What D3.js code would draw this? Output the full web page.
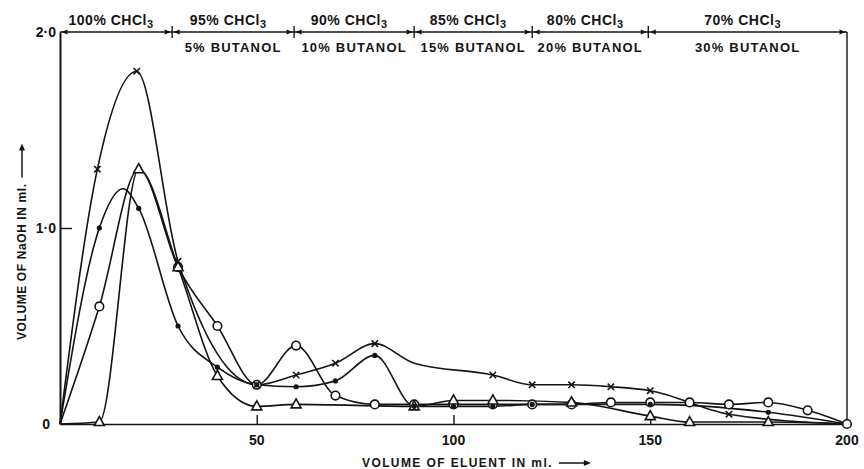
<!DOCTYPE html>
<html>
<head>
<meta charset="utf-8">
<script src="https://cdn.jsdelivr.net/npm/d3@7/dist/d3.min.js"></script>
<style>
body{margin:0;background:#fff;}
div.chart{width:864px;height:469px;}
text{font-family:"Liberation Sans",Arial,sans-serif;font-weight:bold;fill:#141414;}
</style>
</head>
<body>
<div class="chart"></div>
<script>
//values: [ml of eluent, ml of NaOH]
//plotted observations
var crossPts = [[9.5,1.30],[19.5,1.80],[30,0.83],[50,0.20],[60,0.25],[70,0.31],[80,0.41],[110,0.25],[120,0.20],[130,0.20],[140,0.19],[150,0.17],[170,0.05]];
var dotPts   = [[10,1.00],[20,1.10],[30,0.50],[40,0.29],[50,0.20],[60,0.19],[70,0.22],[80,0.35],[90,0.09],[100,0.09],[110,0.09],[120,0.10],[150,0.10],[180,0.06]];
var circPts  = [[10,0.60],[30,0.80],[40,0.50],[50,0.20],[60,0.40],[70,0.145],[80,0.10],[90,0.10],[100,0.10],[110,0.10],[120,0.10],[130,0.10],[140,0.11],[150,0.11],[160,0.11],[170,0.10],[180,0.11],[190,0.07],[200,0]];
var triPts   = [[10,0.01],[20,1.30],[30,0.80],[40,0.245],[50,0.09],[60,0.10],[90,0.09],[100,0.12],[110,0.12],[130,0.11],[150,0.04],[160,0.01],[180,0.01]];

//extra points the hand drawn curves pass through (no symbol)
var crossCurve = [[0,0],[90,0.31],[200,0]];
var dotCurve   = [[0,0],[16,1.20],[200,0]];
var circCurve  = [[0,0],[20,1.30]];
var triCurve   = [[0,0],[200,0]];

//solvent bands along the top
var bandEdges = [0,28.5,59.5,90,120,149.5,200];
var chcl3Pct  = ["100%","95%","90%","85%","80%","70%"];
var butPct    = ["","5%","10%","15%","20%","30%"];

//tick labels
var xTickVals = [50,100,150,200];
var xTickLabels = ["50","100","150","200"];
var yTickVals = [0,1,2];
var yTickLabels = ["0","1·0","2·0"];

var ink = "#141414";

var svg = d3.select("div.chart")
            .append("svg")
            .attr("width", 864)
            .attr("height", 469);

var x = d3.scaleLinear().domain([0,200]).range([60,847]);
var y = d3.scaleLinear().domain([0,2]).range([424,32]);

//bottom axis, ticks point up into the plot
svg.append("g")
   .attr("transform", "translate(0," + y(0) + ")")
   .call(d3.axisBottom(x).tickValues([50,100,150]).tickSize(-9).tickSizeOuter(0).tickFormat(""))
   .call(function(g){
       g.select(".domain").attr("stroke", ink).attr("stroke-width", 1.6);
       g.selectAll(".tick line").attr("stroke", ink).attr("stroke-width", 1.4);
   });

//left axis
svg.append("g")
   .attr("transform", "translate(" + x(0) + ",0)")
   .call(d3.axisLeft(y).tickValues([1]).tickSize(-12).tickSizeOuter(0).tickFormat(""))
   .call(function(g){
       g.select(".domain").attr("stroke", ink).attr("stroke-width", 2);
       g.selectAll(".tick line").attr("stroke", ink).attr("stroke-width", 1.4);
   });

//right edge
svg.append("line")
   .attr("x1", x(200)).attr("x2", x(200))
   .attr("y1", y(2)).attr("y2", y(0))
   .attr("stroke", ink).attr("stroke-width", 1.4);

//top band line with dividers and arrow heads
svg.append("line")
   .attr("x1", x(0)).attr("x2", x(200))
   .attr("y1", y(2)).attr("y2", y(2))
   .attr("stroke", ink).attr("stroke-width", 1.6);

svg.selectAll(".divider")
   .data(bandEdges.slice(1,-1))
   .enter()
   .append("line")
   .attr("x1", function(d){ return x(d); })
   .attr("x2", function(d){ return x(d); })
   .attr("y1", y(2)-6).attr("y2", y(2)+6)
   .attr("stroke", ink).attr("stroke-width", 1.4);

var heads = [];
for(var i=0;i<bandEdges.length-1;i++){
    heads.push({at: bandEdges[i], dir: -1});
    heads.push({at: bandEdges[i+1], dir: 1});
}
svg.selectAll(".head")
   .data(heads)
   .enter()
   .append("path")
   .attr("d", function(d){
       var tx = x(d.at) - d.dir*1.5, ty = y(2);
       return "M" + tx + "," + ty + "L" + (tx - d.dir*6) + "," + (ty-2.5) + "L" + (tx - d.dir*6) + "," + (ty+2.5) + "Z";
   })
   .attr("fill", ink);

//band labels
var bands = chcl3Pct.map(function(p,i){
    return {cx: (x(bandEdges[i]) + x(bandEdges[i+1]))/2 - 5, chcl3: p, but: butPct[i]};
});

var chLab = svg.selectAll(".chcl3")
   .data(bands)
   .enter()
   .append("text")
   .attr("x", function(d){ return d.cx; })
   .attr("y", 25)
   .attr("text-anchor", "middle")
   .attr("font-size", "14px")
   .attr("letter-spacing", "0.5px");
chLab.append("tspan").text(function(d){ return d.chcl3 + " CHCl"; });
chLab.append("tspan").attr("dy", 3).attr("font-size", "11px").text("3");

svg.selectAll(".but")
   .data(bands.filter(function(d){ return d.but; }))
   .enter()
   .append("text")
   .attr("x", function(d){ return d.cx + 5; })
   .attr("y", 52)
   .attr("text-anchor", "middle")
   .attr("font-size", "13px")
   .attr("letter-spacing", "1.2px")
   .text(function(d){ return d.but + " BUTANOL"; });

//tick labels
svg.selectAll(".xlab")
   .data(xTickVals)
   .enter()
   .append("text")
   .attr("x", function(d){ return x(d); })
   .attr("y", 445)
   .attr("text-anchor", "middle")
   .attr("font-size", "14px")
   .text(function(d,i){ return xTickLabels[i]; });

svg.selectAll(".ylab")
   .data(yTickVals)
   .enter()
   .append("text")
   .attr("x", function(d){ return d == 0 ? 50 : 56; })
   .attr("y", function(d){ return y(d) + 5; })
   .attr("text-anchor", "end")
   .attr("font-size", "14px")
   .text(function(d,i){ return yTickLabels[i]; });

//axis titles with arrows
var xt = svg.append("text")
   .attr("x", 362).attr("y", 467)
   .attr("font-size", "12px")
   .attr("letter-spacing", "1.4px")
   .text("VOLUME OF ELUENT IN ml.");
var xtEnd = 362 + xt.node().getComputedTextLength() + 6;
svg.append("path")
   .attr("d", "M" + xtEnd + ",463H" + (xtEnd+28))
   .attr("stroke", ink).attr("stroke-width", 1.5);
svg.append("path")
   .attr("d", "M" + (xtEnd+32) + ",463l-7,-3v6z")
   .attr("fill", ink);

var yg = svg.append("g").attr("transform", "translate(26,340) rotate(-90)");
var yt = yg.append("text")
   .attr("x", 0).attr("y", 0)
   .attr("font-size", "12px")
   .attr("letter-spacing", "0.6px")
   .text("VOLUME OF NaOH IN ml.");
var ytEnd = yt.node().getComputedTextLength() + 6;
yg.append("path")
   .attr("d", "M" + ytEnd + ",-4H" + (ytEnd+30))
   .attr("stroke", ink).attr("stroke-width", 1.5);
yg.append("path")
   .attr("d", "M" + (ytEnd+34) + ",-4l-7,-3v6z")
   .attr("fill", ink);

//curves
var line = d3.line()
             .x(function(d){ return x(d[0]); })
             .y(function(d){ return y(d[1]); })
             .curve(d3.curveMonotoneX);

var series = [
    {pts: circPts,  knots: circCurve,  mark: "circle"},
    {pts: triPts,   knots: triCurve,   mark: "triangle"},
    {pts: dotPts,   knots: dotCurve,   mark: "dot"},
    {pts: crossPts, knots: crossCurve, mark: "cross"}
];

series.forEach(function(s){
    var all = s.pts.concat(s.knots).sort(function(a,b){ return a[0]-b[0]; });
    svg.append("path")
       .attr("d", line(all))
       .attr("fill", "none")
       .attr("stroke", ink)
       .attr("stroke-width", 1.6);
});

//symbols
series.forEach(function(s){
    var g = svg.append("g");
    var pts = g.selectAll("." + s.mark)
               .data(s.pts)
               .enter();
    if(s.mark == "circle"){
        pts.append("circle")
           .attr("cx", function(d){ return x(d[0]); })
           .attr("cy", function(d){ return y(d[1]); })
           .attr("r", 4.3)
           .attr("fill", "#fff").attr("stroke", ink).attr("stroke-width", 1.6);
    } else if(s.mark == "triangle"){
        pts.append("path")
           .attr("d", function(d){
               var cx = x(d[0]), cy = y(d[1]);
               return "M" + cx + "," + (cy-5.5) + "L" + (cx+5) + "," + (cy+3.5) + "L" + (cx-5) + "," + (cy+3.5) + "Z";
           })
           .attr("fill", "#fff").attr("stroke", ink).attr("stroke-width", 1.6);
    } else if(s.mark == "dot"){
        pts.append("circle")
           .attr("cx", function(d){ return x(d[0]); })
           .attr("cy", function(d){ return y(d[1]); })
           .attr("r", 2.6)
           .attr("fill", ink);
    } else {
        pts.append("path")
           .attr("d", function(d){
               var cx = x(d[0]), cy = y(d[1]), r = 3.2;
               return "M" + (cx-r) + "," + (cy-r) + "L" + (cx+r) + "," + (cy+r) + "M" + (cx+r) + "," + (cy-r) + "L" + (cx-r) + "," + (cy+r);
           })
           .attr("stroke", ink).attr("stroke-width", 1.6);
    }
});
</script>
</body>
</html>
